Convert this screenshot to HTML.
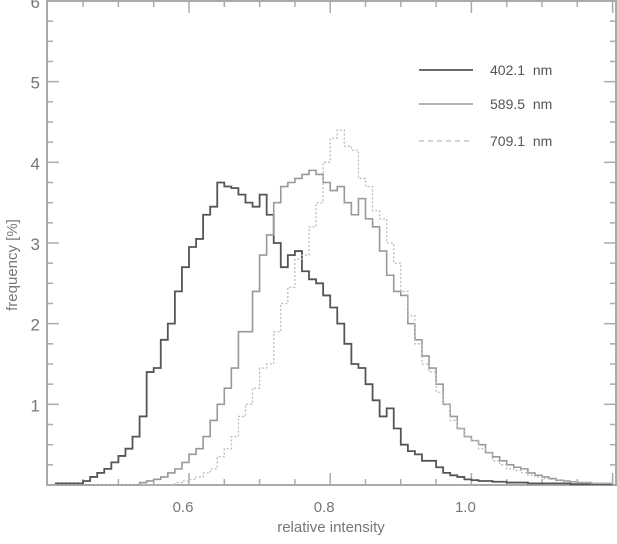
<!DOCTYPE html>
<html><head><meta charset="utf-8"><style>
html,body{margin:0;padding:0;background:#fff;}
svg text{font-family:"Liberation Sans",sans-serif;fill:#777;}
</style></head><body>
<svg id="chart" width="617" height="539" viewBox="0 0 617 539" xmlns="http://www.w3.org/2000/svg"></svg>
<script>
const binStart = 0.41;
const binWidth = 0.01;
const series402 = [0.02,0.02,0.02,0.02,0.05,0.1,0.15,0.2,0.28,0.36,0.45,0.6,0.85,1.4,1.45,1.8,2.0,2.4,2.7,2.95,3.05,3.35,3.45,3.75,3.7,3.68,3.6,3.5,3.45,3.6,3.35,3.0,2.7,2.85,2.9,2.65,2.55,2.5,2.35,2.2,2.0,1.75,1.5,1.45,1.25,1.05,0.85,0.95,0.7,0.5,0.42,0.38,0.3,0.3,0.22,0.15,0.12,0.1,0.07,0.06,0.05,0.05,0.04,0.04,0.03,0.03,0.03,0.02,0.02,0.02,0.02,0.02,0.02,0.01,0.01,0.01,0.01,0.01,0.01];
const series589 = [0,0,0,0,0,0,0,0,0,0,0,0,0.03,0.05,0.07,0.1,0.15,0.2,0.28,0.38,0.45,0.6,0.8,1.0,1.2,1.45,1.9,1.9,2.4,2.85,3.1,3.5,3.7,3.75,3.8,3.85,3.9,3.85,3.75,3.65,3.7,3.5,3.35,3.55,3.3,3.2,2.9,2.6,2.4,2.35,2.0,1.8,1.6,1.45,1.25,1.0,0.85,0.7,0.6,0.55,0.5,0.4,0.35,0.3,0.25,0.22,0.2,0.15,0.12,0.1,0.08,0.06,0.05,0.04,0.03,0.03,0.02,0.02,0.02];
const series709 = [0,0,0,0,0,0,0,0,0,0,0,0,0,0,0,0,0,0.03,0.05,0.07,0.1,0.15,0.2,0.35,0.45,0.6,0.85,1.0,1.2,1.45,1.5,1.9,2.25,2.45,2.8,2.85,3.2,3.5,4.0,4.3,4.4,4.2,4.15,3.8,3.7,3.4,3.3,3.0,2.75,2.4,2.1,1.75,1.5,1.4,1.15,1.0,0.8,0.7,0.6,0.55,0.45,0.4,0.3,0.25,0.2,0.18,0.15,0.12,0.1,0.08,0.07,0.06,0.05,0.04,0.03,0.03,0.02,0.02,0.02];
const yTicks = [1,2,3,4,5,6];
const xTicks = [0.6,0.8,1.0];
const xTickLabels = ["0.6","0.8","1.0"];
const legendLabels = ["402.1  nm","589.5  nm","709.1  nm"];

const NS="http://www.w3.org/2000/svg", svg=document.getElementById('chart');
const L=47,R=616,T=1,B=485;
const X=v=>189+(v-0.6)*706;
const Y=v=>B-v*80.67;
function mk(t,a){const e=document.createElementNS(NS,t);for(const k in a)e.setAttribute(k,a[k]);svg.appendChild(e);return e;}

const fr=mk('rect',{x:L,y:T,width:R-L,height:B-T,fill:'none',stroke:'#aaa','stroke-width':2});


for(let i=1;i<24;i++){const v=i*0.25,len=(i%4===0)?12:6;
 const t1=mk('line',{x1:L,x2:L+len,y1:Y(v),y2:Y(v),stroke:'#aaa','stroke-width':1.5});
 
 
 const t2=mk('line',{x1:R,x2:R-len,y1:Y(v),y2:Y(v),stroke:'#aaa','stroke-width':1.5});
 
 }
for(let i=0;i<=16;i++){const v=0.4+i*0.05;const px=X(v);if(px<=L+1||px>=R-1)continue;
 const major=Math.abs((v*10)%2)<0.01||Math.abs((v*10)%2-2)<0.01;const len=major?12:6;
 const t1=mk('line',{x1:px,x2:px,y1:B,y2:B-len,stroke:'#aaa','stroke-width':1.5});
 
 
 const t2=mk('line',{x1:px,x2:px,y1:T,y2:T+len,stroke:'#aaa','stroke-width':1.5});
 
 }
yTicks.forEach(v=>{const t=mk('text',{x:40,y:Y(v)+7,'text-anchor':'end','font-size':17});t.textContent=v;
 
 });
xTicks.forEach((v,i)=>{const t=mk('text',{x:X(v)-6,y:512,'text-anchor':'middle','font-size':15});t.textContent=xTickLabels[i];
 
 });
const xt=mk('text',{x:331,y:532,'text-anchor':'middle','font-size':15});xt.textContent='relative intensity';


const yt=mk('text',{x:0,y:0,'text-anchor':'middle','font-size':15,transform:'translate(17,265) rotate(-90)'});yt.textContent='frequency [%]';



function stepPath(vals){let d='';
 vals.forEach((v,i)=>{const x0=Math.max(X(binStart+i*binWidth),L),x1=X(binStart+(i+1)*binWidth);
  if(i===0)d+=`M${x0},${Y(v)}`;else d+=`L${x0},${Y(v)}`;d+=`L${Math.min(x1,R)},${Y(v)}`;});
 return d;}
const styles=[{s:'#555',w:1.8,da:''},{s:'#999',w:1.6,da:''},{s:'#bbb',w:1.3,da:'2,2'}];
[series402,series589,series709].forEach((vals,i)=>{const p=mk('path',{d:stepPath(vals),fill:'none',stroke:styles[i].s,'stroke-width':styles[i].w,'stroke-dasharray':styles[i].da});
 
 });
const ly=[70,104,141];
legendLabels.forEach((lab,i)=>{const ln=mk('line',{x1:419,x2:473,y1:ly[i],y2:ly[i],stroke:styles[i].s,'stroke-width':styles[i].w,'stroke-dasharray':i===2?'5,4':''});
 
 
 const t=mk('text',{x:490,y:ly[i]+5,'font-size':14});t.textContent=lab;t.style.fill='#555';t.style.whiteSpace='pre';
 
 });
</script>
</body></html>
